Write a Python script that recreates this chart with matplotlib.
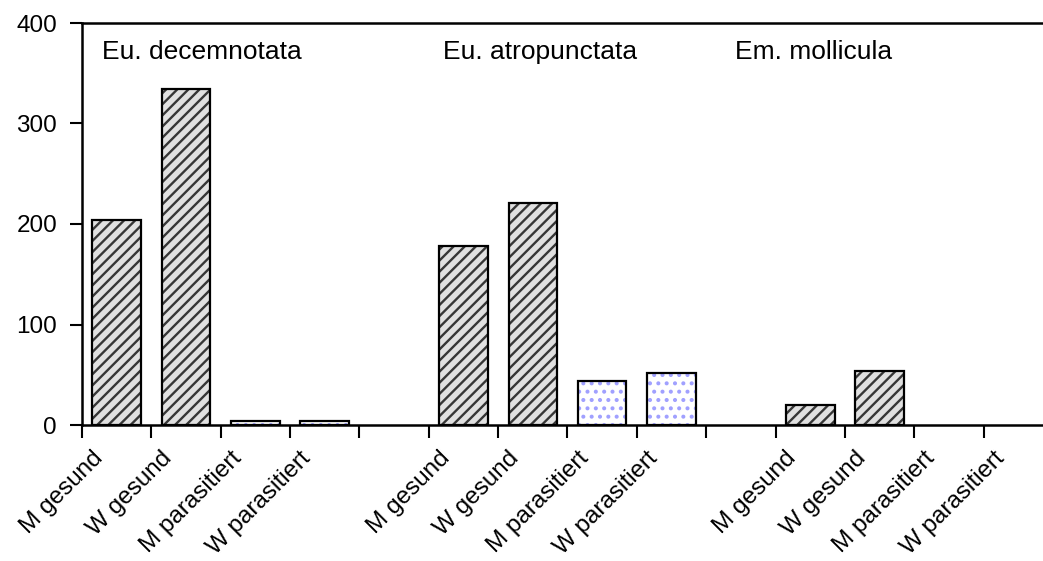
import matplotlib
matplotlib.use("Agg")
import matplotlib.pyplot as plt
import numpy as np

plt.rcParams['font.family'] = ['Liberation Sans', 'DejaVu Sans']
plt.rcParams['hatch.linewidth'] = 1.7

# data
species = ['Eu. decemnotata', 'Eu. atropunctata', 'Em. mollicula']
classes = ['M gesund', 'W gesund', 'M parasitiert', 'W parasitiert']
counts = [
    [204, 334, 4, 4],
    [178, 221, 44, 52],
    [20, 54, 0, 0],
]
species_label_x = [-0.21, 4.70, 8.91]

# slots: 4 bars per species, one empty slot between groups
xs, heights, labels, kinds = [], [], [], []
pos = 0
for g, vals in enumerate(counts):
    for c, v in zip(classes, vals):
        xs.append(pos)
        heights.append(v)
        labels.append(c)
        kinds.append('gesund' if 'gesund' in c else 'para')
        pos += 1
    pos += 1
n_slots = pos - 1

fig = plt.figure(figsize=(10.43, 5.61), dpi=100)
ax = fig.add_axes([82 / 1043, 1 - 425 / 561, (1053 - 82) / 1043, (425 - 23) / 561])

width = 0.7
for x, h, k in zip(xs, heights, kinds):
    if h <= 0:
        continue
    if k == 'gesund':
        ax.bar(x, h, width=width, color='#e0e0e0', edgecolor='#363636', hatch='///', linewidth=0)
    else:
        ax.bar(x, h, width=width, color='white', edgecolor='#a0a0ff', hatch='..', linewidth=0)
    ax.bar(x, h, width=width, fill=False, edgecolor='black', linewidth=1.6)

ax.set_xlim(-0.5, n_slots - 0.5)
ax.set_ylim(0, 400)
ax.set_yticks([0, 100, 200, 300, 400])
ax.tick_params(axis='y', direction='out', length=9, width=1.5, labelsize=17.5, pad=9)

# category boundaries as ticks, labels on slot centres
ax.set_xticks(np.arange(-0.5, n_slots - 0.5, 1.0))
ax.set_xticklabels([])
ax.tick_params(axis='x', direction='out', length=9, width=1.5)
for x, lab in zip(xs, labels):
    ax.text(x - 0.36, -22, lab, rotation=45, ha='right', va='top', rotation_mode='anchor',
            fontsize=17.5)

for sx, sp in zip(species_label_x, species):
    ax.text(sx, 371, sp, ha='left', va='center', fontsize=19)

for s in ['left', 'bottom', 'top']:
    ax.spines[s].set_linewidth(1.8)
ax.spines['right'].set_visible(False)

fig.savefig('out.png', dpi=100)
